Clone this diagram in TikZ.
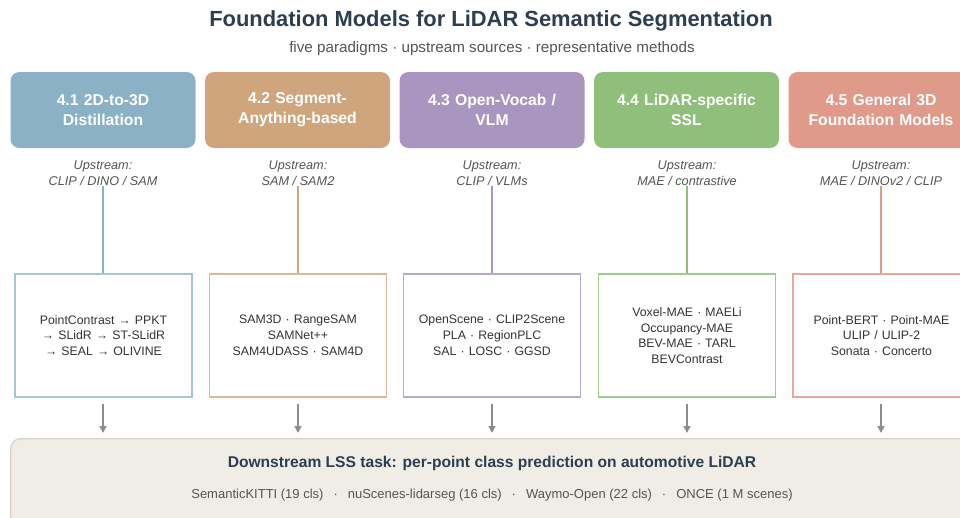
\documentclass[tikz,border=0pt]{standalone}
\usepackage{fontspec}
\setmainfont{Liberation Sans}
\usetikzlibrary{arrows.meta}
\definecolor{titlec}{HTML}{2C3E50}
\definecolor{subc}{HTML}{555555}
\definecolor{txtc}{HTML}{333333}
\definecolor{cA}{HTML}{8AB1C5}
\definecolor{cB}{HTML}{CFA57D}
\definecolor{cC}{HTML}{A996C0}
\definecolor{cD}{HTML}{90BF7C}
\definecolor{cE}{HTML}{E09A8A}
\definecolor{lA}{HTML}{A3C5D6}
\definecolor{lB}{HTML}{DDB895}
\definecolor{lC}{HTML}{B9A9CF}
\definecolor{lD}{HTML}{9FCB8C}
\definecolor{lE}{HTML}{E8A899}
\definecolor{downfill}{HTML}{F0EDE6}
\definecolor{downdraw}{HTML}{D8D3C8}
\definecolor{arrc}{HTML}{8C8C8C}
\newcommand{\sepdot}{\hspace{10pt}·\hspace{10pt}}
\begin{document}
\begin{tikzpicture}[x=1pt,y=-1pt,
  head/.style={rounded corners=9pt, minimum width=185pt, minimum height=76pt,
    text width=180pt, align=center, text=white, inner sep=0pt,
    font=\fontsize{15.7}{20}\selectfont\bfseries},
  upst/.style={align=center, text=subc, inner sep=0pt,
    font=\fontsize{12.7}{16}\selectfont\itshape},
  meth/.style={draw, line width=1.3pt, fill=white, minimum width=177pt, minimum height=123pt,
    text width=170pt, align=center, text=txtc, inner sep=0pt,
    font=\fontsize{12.3}{15.8}\selectfont},
  link/.style={line width=1.5pt},
  down/.style={-{Triangle[length=7pt,width=7pt]}, draw=arrc, fill=arrc, line width=1.5pt}
]
\useasboundingbox (0,0) rectangle (960,517);
\fill[white] (0,0) rectangle (960,517);

% title block
\node[text=titlec, font=\fontsize{21.9}{26}\selectfont\bfseries] (title) at (491,21)
  {Foundation Models for LiDAR Semantic Segmentation};
\node[text=subc, font=\fontsize{15.2}{18}\selectfont] (sub) at (492,49)
  {five paradigms · upstream sources · representative methods};

% paradigm headers
\node[head, fill=cA] (h1) at (103,110) {4.1 2D-to-3D\\Distillation};
\node[head, fill=cB] (h2) at (297.5,110) {4.2 Segment-\\Anything-based};
\node[head, fill=cC] (h3) at (492,110) {4.3 Open-Vocab /\\VLM};
\node[head, fill=cD] (h4) at (686.5,110) {4.4 LiDAR-specific\\SSL};
\node[head, fill=cE] (h5) at (881,110) {4.5 General 3D\\Foundation Models};

% upstream sources
\node[upst] (u1) at (103,173) {Upstream:\\CLIP / DINO / SAM};
\node[upst] (u2) at (298,173) {Upstream:\\SAM / SAM2};
\node[upst] (u3) at (492,173) {Upstream:\\CLIP / VLMs};
\node[upst] (u4) at (687,173) {Upstream:\\MAE / contrastive};
\node[upst] (u5) at (881,173) {Upstream:\\MAE / DINOv2 / CLIP};

% representative methods
\node[meth, draw=lA] (m1) at (103.5,335.5) {PointContrast → PPKT\\→ SLidR → ST-SLidR\\→ SEAL → OLIVINE};
\node[meth, draw=lB] (m2) at (298,335.5) {SAM3D · RangeSAM\\SAMNet++\\SAM4UDASS · SAM4D};
\node[meth, draw=lC] (m3) at (492,335.5) {OpenScene · CLIP2Scene\\PLA · RegionPLC\\SAL · LOSC · GGSD};
\node[meth, draw=lD] (m4) at (687,335.5) {Voxel-MAE · MAELi\\Occupancy-MAE\\BEV-MAE · TARL\\BEVContrast};
\node[meth, draw=lE] (m5) at (881.5,335.5) {Point-BERT · Point-MAE\\ULIP / ULIP-2\\Sonata · Concerto};

% upstream links
\foreach \i/\c in {1/cA,2/cB,3/cC,4/cD,5/cE}{
  \draw[link, draw=\c] (u\i.south) -- (u\i.south |- m\i.north);
}

% downstream task
\node[draw=downdraw, fill=downfill, line width=1.3pt, rounded corners=10pt,
  minimum width=968pt, minimum height=92pt, anchor=north west, inner sep=0pt] (ds) at (10,438) {};
\node[text=titlec, font=\fontsize{15.6}{18}\selectfont\bfseries] (dt) at (492,463)
  {Downstream LSS task: per-point class prediction on automotive LiDAR};
\node[text=subc, font=\fontsize{13}{15}\selectfont] (dd) at (492,495)
  {SemanticKITTI (19 cls)\sepdot nuScenes-lidarseg (16 cls)\sepdot Waymo-Open (22 cls)\sepdot ONCE (1 M scenes)};

% arrows into the task
\foreach \i in {1,...,5}{
  \draw[down] (u\i.south |- m\i.south) ++(0,6) coordinate (s\i) -- ([yshift=5pt]s\i |- ds.north);
}
\end{tikzpicture}
\end{document}
